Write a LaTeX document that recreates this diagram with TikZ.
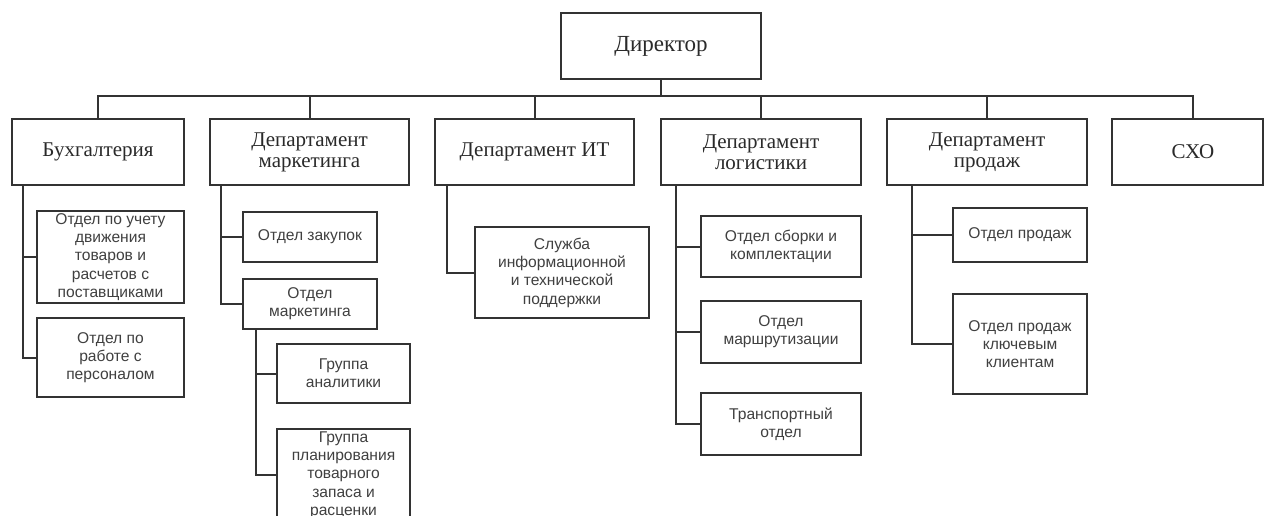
\documentclass[tikz,border=0pt]{standalone}
\usepackage{fontspec}
\setmainfont{Liberation Serif}
\setsansfont{Liberation Sans}
\definecolor{linec}{HTML}{333333}
\definecolor{txtc}{HTML}{2A2A2A}
\definecolor{stxt}{HTML}{404040}
\tikzset{
  topbox/.style={draw=linec, line width=2pt, fill=white, inner sep=0pt, align=center,
    text=txtc, font=\fontsize{21}{21}\selectfont},
  subbox/.style={draw=linec, line width=2pt, fill=white, inner sep=0pt, align=center,
    text=stxt, font=\sffamily\fontsize{15.6}{18.3}\selectfont},
  conn/.style={draw=linec, line width=2pt},
}
\begin{document}
\begin{tikzpicture}[x=1pt,y=-1pt]
\useasboundingbox (0,0) rectangle (1264,515);
\clip (0,0) rectangle (1264,515);
\fill[white] (0,0) rectangle (1264,515);
\coordinate (bus) at (0,96);
% top level
\node[topbox, minimum width=200pt, minimum height=66pt, font=\fontsize{23}{23}\selectfont] (dir) at (661,46) {Директор};
\node[topbox, minimum width=172pt, minimum height=66pt] (buh) at (98,152) {Бухгалтерия};
\node[topbox, minimum width=199pt, minimum height=66pt] (mkt) at (309.5,152) {Департамент\\маркетинга};
\node[topbox, minimum width=199pt, minimum height=66pt] (it) at (534.5,152) {Департамент ИТ};
\node[topbox, minimum width=200pt, minimum height=66pt] (log) at (761,152) {Департамент\\логистики};
\node[topbox, minimum width=200pt, minimum height=66pt] (sal) at (987,152) {Департамент\\продаж};
\node[topbox, minimum width=151pt, minimum height=66pt] (cxo) at (1187.5,152) {\hspace*{11pt}СХО};
% bus
\draw[conn] (dir.south) -- (dir.south |- bus);
\draw[conn] (buh.north) -- (buh.north |- bus) -- ([xshift=5.5pt]cxo.north |- bus) -- ([xshift=5.5pt]cxo.north);
\draw[conn] (mkt.north) -- (mkt.north |- bus);
\draw[conn] (it.north) -- (it.north |- bus);
\draw[conn] (log.north) -- (log.north |- bus);
\draw[conn] (sal.north) -- (sal.north |- bus);
% Бухгалтерия
\node[subbox, minimum width=147pt, minimum height=92pt] (b1) at (110.5,257) {Отдел по учету\\движения\\товаров и\\расчетов с\\поставщиками};
\node[subbox, minimum width=147pt, minimum height=79pt] (b2) at (110.5,357.5) {Отдел по\\работе с\\персоналом};
\draw[conn] ([xshift=12pt]buh.south west) |- (b1.west);
\draw[conn] ([xshift=12pt]buh.south west) |- (b2.west);
% Маркетинг
\node[subbox, minimum width=134pt, minimum height=50pt] (m1) at (310,237) {Отдел закупок};
\node[subbox, minimum width=134pt, minimum height=50pt] (m2) at (310,304) {Отдел\\маркетинга};
\node[subbox, minimum width=133pt, minimum height=59pt] (m3) at (343.5,373.5) {Группа\\аналитики};
\node[subbox, minimum width=133pt, minimum height=92pt] (m4) at (343.5,475) {Группа\\планирования\\товарного\\запаса и\\расценки};
\draw[conn] ([xshift=12pt]mkt.south west) |- (m1.west);
\draw[conn] ([xshift=12pt]mkt.south west) |- (m2.west);
\draw[conn] ([xshift=14pt]m2.south west) |- (m3.west);
\draw[conn] ([xshift=14pt]m2.south west) |- (m4.west);
% ИТ
\node[subbox, minimum width=174pt, minimum height=91pt] (i1) at (562,272.5) {Служба\\информационной\\и технической\\поддержки};
\draw[conn] ([xshift=13pt]it.south west) |- (i1.west);
% Логистика
\node[subbox, minimum width=160pt, minimum height=61pt] (l1) at (781,246.5) {Отдел сборки и\\комплектации};
\node[subbox, minimum width=160pt, minimum height=62pt] (l2) at (781,332) {Отдел\\маршрутизации};
\node[subbox, minimum width=160pt, minimum height=62pt] (l3) at (781,424) {Транспортный\\отдел};
\draw[conn] ([xshift=16pt]log.south west) |- (l1.west);
\draw[conn] ([xshift=16pt]log.south west) |- (l2.west);
\draw[conn] ([xshift=16pt]log.south west) |- (l3.west);
% Продажи
\node[subbox, minimum width=134pt, minimum height=54pt] (p1) at (1020,235) {Отдел продаж};
\node[subbox, minimum width=134pt, minimum height=100pt] (p2) at (1020,344) {Отдел продаж\\ключевым\\клиентам};
\draw[conn] ([xshift=26pt]sal.south west) |- (p1.west);
\draw[conn] ([xshift=26pt]sal.south west) |- (p2.west);
\end{tikzpicture}
\end{document}
